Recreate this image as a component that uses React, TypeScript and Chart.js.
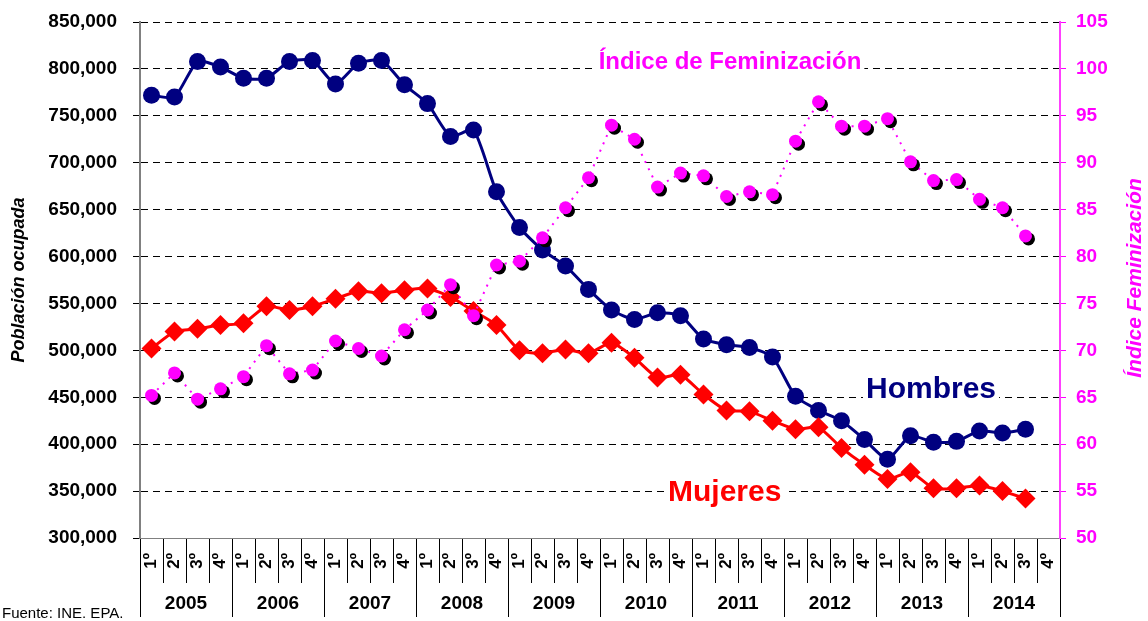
import React, { useEffect, useRef } from 'react';
import { Chart, registerables } from 'chart.js';

Chart.register(...registerables);

const FONT = "'Liberation Sans', Arial, Helvetica, sans-serif";
const NAVY = '#000080';
const RED = '#ff0000';
const MAGENTA = '#ff00ff';

const years = ['2005', '2006', '2007', '2008', '2009', '2010', '2011', '2012', '2013', '2014'];
const quarters = ['1º', '2º', '3º', '4º'];

// Población ocupada (personas)
const hombres = [
  772000, 770000, 808000, 802000, 790000, 790000, 808000, 809000,
  784000, 806000, 809000, 783000, 763000, 728000, 735000, 669000,
  631000, 607000, 590000, 565000, 543000, 533000, 540000, 537000,
  512000, 506000, 503000, 493000, 451000, 436000, 425000, 405000,
  384000, 409000, 402000, 403000, 414000, 412000, 416000,
];
const mujeres = [
  502000, 520000, 523000, 527000, 529000, 547000, 543000, 547000,
  555000, 563000, 561000, 564000, 566000, 557000, 542000, 527000,
  500000, 497000, 501000, 497000, 508000, 492000, 471000, 474000,
  453000, 436000, 435000, 425000, 416000, 418000, 396000, 378000,
  363000, 370000, 353000, 353000, 356000, 350000, 342000,
];
// Índice de feminización
const indice = [
  65.2, 67.6, 64.8, 65.9, 67.2, 70.5, 67.5, 67.9,
  71.0, 70.2, 69.4, 72.2, 74.3, 77.0, 73.7, 79.1,
  79.5, 82.0, 85.2, 88.4, 94.0, 92.5, 87.4, 88.9,
  88.6, 86.4, 86.9, 86.6, 92.3, 96.5, 93.9, 93.9,
  94.7, 90.1, 88.1, 88.2, 86.1, 85.2, 82.2,
];

const quarterLabels = years.flatMap(() => quarters);

const shadowPlugin = {
  id: 'ptShadow',
  beforeDatasetDraw(chart: any, args: any) {
    if (chart.data.datasets[args.index].label === 'idxPts') {
      const ctx = chart.ctx;
      ctx.save();
      ctx.shadowColor = '#000';
      ctx.shadowOffsetX = 3;
      ctx.shadowOffsetY = 3;
      ctx.shadowBlur = 0;
    }
  },
  afterDatasetDraw(chart: any, args: any) {
    if (chart.data.datasets[args.index].label === 'idxPts') {
      chart.ctx.restore();
    }
  },
};

function boxedText(ctx: any, text: string, x: number, y: number, font: string, color: string, align: 'left' | 'center', ascent: number, descent: number) {
  ctx.font = font;
  ctx.textAlign = align;
  ctx.textBaseline = 'alphabetic';
  const w = ctx.measureText(text).width;
  const left = align === 'center' ? x - w / 2 : x;
  ctx.fillStyle = '#fff';
  ctx.fillRect(left - 3, y - ascent, w + 6, ascent + descent);
  ctx.fillStyle = color;
  ctx.fillText(text, x, y);
}

const notesPlugin = {
  id: 'notes',
  afterDraw(chart: any) {
    const ctx = chart.ctx;
    ctx.save();

    boxedText(ctx, 'Índice de Feminización', 730, 69, `bold 24px ${FONT}`, MAGENTA, 'center', 26, 6);
    boxedText(ctx, 'Hombres', 866, 398, `bold 30px ${FONT}`, NAVY, 'left', 24, 4);
    boxedText(ctx, 'Mujeres', 668, 501, `bold 30px ${FONT}`, RED, 'left', 24, 4);

    ctx.fillStyle = '#000';
    ctx.font = `15px ${FONT}`;
    ctx.textAlign = 'left';
    ctx.textBaseline = 'alphabetic';
    ctx.fillText('Fuente: INE. EPA.', 2, 618);

    ctx.translate(1135, 278);
    ctx.rotate(-Math.PI / 2);
    ctx.textAlign = 'center';
    ctx.textBaseline = 'middle';
    ctx.fillStyle = MAGENTA;
    ctx.font = `italic bold 21px ${FONT}`;
    ctx.fillText('Índice Feminización', 0, 0);
    ctx.restore();
  },
};

export default function App() {
  const ref = useRef<HTMLCanvasElement | null>(null);

  useEffect(() => {
    document.body.style.margin = '0';
    const canvas = ref.current;
    if (!canvas) return;
    const boldFont = (size: number) => ({ family: FONT, size, weight: 'bold' as const });

    const chart = new Chart(canvas, {
      type: 'line',
      data: {
        labels: quarterLabels,
        datasets: [
          {
            label: 'Hombres',
            data: hombres,
            yAxisID: 'y',
            xAxisID: 'x',
            borderColor: NAVY,
            backgroundColor: NAVY,
            borderWidth: 3,
            pointStyle: 'circle',
            pointRadius: 8.5,
            pointBorderWidth: 0,
            tension: 0.2,
            order: 4,
            clip: false,
          },
          {
            label: 'Mujeres',
            data: mujeres,
            yAxisID: 'y',
            xAxisID: 'x',
            borderColor: RED,
            backgroundColor: RED,
            borderWidth: 3,
            pointStyle: 'rectRot',
            pointRadius: 10,
            pointBorderWidth: 0,
            tension: 0.2,
            order: 3,
            clip: false,
          },
          {
            label: 'idxLine',
            data: indice,
            yAxisID: 'y1',
            xAxisID: 'x',
            borderColor: MAGENTA,
            borderWidth: 2,
            borderDash: [2, 6],
            pointRadius: 0,
            tension: 0,
            order: 2,
            clip: false,
          },
          {
            label: 'idxPts',
            data: indice,
            yAxisID: 'y1',
            xAxisID: 'x',
            showLine: false,
            borderColor: MAGENTA,
            backgroundColor: MAGENTA,
            pointStyle: 'circle',
            pointRadius: 6.5,
            pointBorderWidth: 0,
            order: 1,
            clip: false,
          },
        ],
      },
      options: {
        responsive: false,
        animation: false,
        layout: { padding: { top: 22, left: 0, right: 0, bottom: 0 } },
        plugins: {
          legend: { display: false },
          tooltip: { enabled: false },
          title: { display: false },
        },
        scales: {
          x: {
            type: 'category',
            position: 'bottom',
            weight: 0,
            offset: true,
            grid: { offset: true, drawOnChartArea: false, color: '#000', tickLength: 45, lineWidth: 1 },
            border: { display: true, color: '#808080', width: 1 },
            ticks: {
              autoSkip: false,
              minRotation: 90,
              maxRotation: 90,
              padding: -30,
              color: '#000',
              font: boldFont(17),
            },
            afterFit: (s: any) => { s.height = 45; },
          },
          xYear: {
            type: 'category',
            labels: years,
            position: 'bottom',
            weight: 1,
            offset: true,
            grid: { offset: true, drawOnChartArea: false, color: '#000', tickLength: 34, lineWidth: 1 },
            border: { display: false },
            ticks: {
              autoSkip: false,
              minRotation: 0,
              maxRotation: 0,
              padding: -25,
              color: '#000',
              font: boldFont(19),
            },
            afterFit: (s: any) => { s.height = 38; },
          },
          y: {
            position: 'left',
            min: 300000,
            max: 850000,
            ticks: {
              stepSize: 50000,
              padding: 16,
              color: '#000',
              font: boldFont(19),
              callback: (v: any) => Number(v).toLocaleString('en-US'),
            },
            grid: {
              color: (c: any) => (c.tick && c.tick.value === 300000 ? 'rgba(0,0,0,0)' : '#000'),
              tickColor: '#000',
              tickLength: 7,
              lineWidth: 1,
            },
            border: { display: true, color: '#808080', width: 2, dash: [7, 5] },
            title: {
              display: true,
              text: 'Población ocupada',
              color: '#000',
              font: { family: FONT, size: 18, weight: 'bold', style: 'italic' },
              padding: { top: 8, bottom: 0 },
            },
            afterFit: (s: any) => { s.width = 140; s.paddingTop = 0; s.paddingBottom = 0; },
          },
          y1: {
            position: 'right',
            min: 50,
            max: 105,
            ticks: {
              stepSize: 5,
              padding: 10,
              color: MAGENTA,
              font: boldFont(19),
            },
            grid: { drawOnChartArea: false, color: MAGENTA, tickLength: 6, lineWidth: 1 },
            border: { display: true, color: '#ff40ff', width: 2 },
            afterFit: (s: any) => { s.width = 88; s.paddingTop = 0; s.paddingBottom = 0; },
          },
        },
      },
      plugins: [shadowPlugin, notesPlugin],
    } as any);

    return () => chart.destroy();
  }, []);

  return (
    <div style={{ width: 1148, height: 621, position: 'relative', background: '#fff' }}>
      <canvas ref={ref} width={1148} height={621} style={{ display: 'block' }} />
    </div>
  );
}
